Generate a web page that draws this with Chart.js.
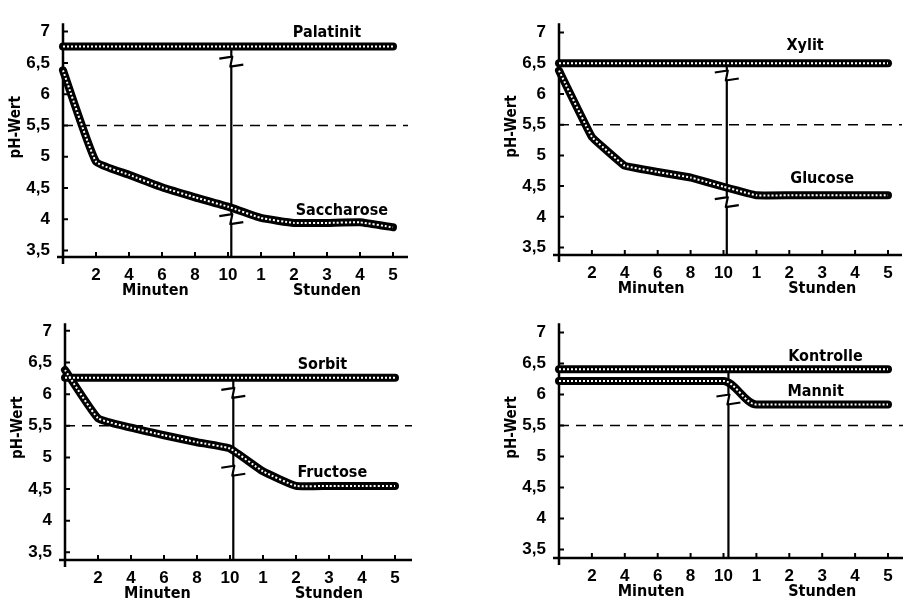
<!DOCTYPE html>
<html lang="de">
<head>
<meta charset="UTF-8">
<title>pH-Wert</title>
<script src="https://cdn.jsdelivr.net/npm/chart.js"></script>
<style>
  body { margin: 0; background: #fff; }
  canvas { position: absolute; }
</style>
</head>
<body>
<canvas id="c1" width="451" height="300" style="left:0;top:0"></canvas>
<canvas id="c2" width="452" height="300" style="left:451px;top:0"></canvas>
<canvas id="c3" width="451" height="303" style="left:0;top:300px"></canvas>
<canvas id="c4" width="452" height="303" style="left:451px;top:300px"></canvas>

<script>
// x positions 0..10: 0-10 Minuten, then 1-5 Stunden
const xTickLabels = ['', '2', '4', '6', '8', '10', '1', '2', '3', '4', '5'];
const yTickValues = [3.5, 4, 4.5, 5, 5.5, 6, 6.5, 7];
const refPH = 5.5;

const palatinit  = [6.76, 6.76, 6.76, 6.76, 6.76, 6.76, 6.76, 6.76, 6.76, 6.76, 6.76];
const saccharose = [6.38, 4.92, 4.71, 4.51, 4.35, 4.20, 4.02, 3.94, 3.94, 3.95, 3.87];
const xylit      = [6.50, 6.50, 6.50, 6.50, 6.50, 6.50, 6.50, 6.50, 6.50, 6.50, 6.50];
const glucose    = [6.38, 5.30, 4.83, 4.73, 4.64, 4.49, 4.35, 4.35, 4.35, 4.35, 4.35];
const sorbit     = [6.26, 6.26, 6.26, 6.26, 6.26, 6.26, 6.26, 6.26, 6.26, 6.26, 6.26];
const fructose   = [6.38, 5.62, 5.47, 5.35, 5.24, 5.14, 4.78, 4.55, 4.55, 4.55, 4.55];
const kontrolle  = [6.41, 6.41, 6.41, 6.41, 6.41, 6.41, 6.41, 6.41, 6.41, 6.41, 6.41];
const mannit     = [6.22, 6.22, 6.22, 6.22, 6.22, 6.22, 5.84, 5.84, 5.84, 5.84, 5.84];

const labelFont = 'bold 16px "DejaVu Sans Condensed", "DejaVu Sans"';
const titleFont = 'bold 15px "DejaVu Sans Condensed", "DejaVu Sans"';
const tickFont = { family: 'Liberation Sans', size: 17, weight: 'bold' };

// geometry of each panel (pixels inside its canvas)
const panels = [
  { id: 'c1', w: 451, h: 300, left: 63, right: 408, lastTick: 393, y7: 16, y35: 250, axisY: 257, top: 7,
    series: [['Palatinit', palatinit, 0], ['Saccharose', saccharose, 0.12]],
    names: [['Palatinit', 8.0, 6.985], ['Saccharose', 8.45, 4.14]],
    splitX: 5.1, splitTop: 6.76, breaks: [6.52, 4.0] },
  { id: 'c2', w: 452, h: 300, left: 108, right: 451, lastTick: 437, y7: 16, y35: 247, axisY: 255, top: 6,
    series: [['Xylit', xylit, 0], ['Glucose', glucose, 0.05]],
    names: [['Xylit', 7.48, 6.79], ['Glucose', 8.0, 4.62]],
    splitX: 5.1, splitTop: 6.5, breaks: [6.3, 4.24] },
  { id: 'c3', w: 451, h: 303, left: 65, right: 412, lastTick: 395, y7: 20, y35: 252, axisY: 260, top: 12,
    series: [['Sorbit', sorbit, 0], ['Fructose', fructose, 0.12]],
    names: [['Sorbit', 7.8, 6.47], ['Fructose', 8.1, 4.76]],
    splitX: 5.1, splitTop: 6.26, breaks: [6.02, 4.79] },
  { id: 'c4', w: 452, h: 303, left: 108, right: 452, lastTick: 437, y7: 17, y35: 249, axisY: 258, top: 7,
    series: [['Kontrolle', kontrolle, 0], ['Mannit', mannit, 'mono']],
    names: [['Kontrolle', 8.1, 6.61], ['Mannit', 7.8, 6.05]],
    splitX: 5.15, splitTop: 6.41, breaks: [5.92] }
];

const decor = {
  id: 'decor',
  beforeDatasetsDraw(chart, args, o) {
    const ctx = chart.ctx, xs = chart.scales.x, ys = chart.scales.y, a = chart.chartArea;
    ctx.save();
    ctx.strokeStyle = '#000';
    ctx.lineWidth = 2.5;
    ctx.beginPath();
    ctx.moveTo(a.left, a.top);
    ctx.lineTo(a.left, a.bottom + 7);
    ctx.moveTo(a.left - 6, a.bottom);
    ctx.lineTo(a.right, a.bottom);
    ctx.stroke();

    // inward tick marks
    ctx.lineWidth = 2;
    ctx.beginPath();
    ys.ticks.forEach(t => {
      const y = ys.getPixelForValue(t.value);
      ctx.moveTo(a.left, y);
      ctx.lineTo(a.left + 5, y);
    });
    xs.ticks.forEach(t => {
      const x = xs.getPixelForValue(t.value);
      ctx.moveTo(x, a.bottom);
      ctx.lineTo(x, a.bottom - 5);
    });
    ctx.stroke();

    // split line between Minuten and Stunden, with break marks
    const sx = xs.getPixelForValue(o.splitX);
    ctx.lineWidth = 2.2;
    ctx.lineJoin = 'round';
    ctx.beginPath();
    ctx.moveTo(sx, ys.getPixelForValue(o.splitTop));
    o.breaks.forEach(v => {
      const y = ys.getPixelForValue(v);
      ctx.lineTo(sx, y - 5);
      ctx.moveTo(sx - 12, y - 3);
      ctx.lineTo(sx + 1, y - 5);
      ctx.lineTo(sx - 1, y + 5);
      ctx.lineTo(sx + 12, y + 3);
      ctx.moveTo(sx, y + 5);
    });
    ctx.lineTo(sx, a.bottom);
    ctx.stroke();
    ctx.restore();
  },
  afterDraw(chart, args, o) {
    const ctx = chart.ctx, xs = chart.scales.x, ys = chart.scales.y, a = chart.chartArea;
    ctx.save();
    ctx.fillStyle = '#000';
    ctx.font = labelFont;
    ctx.textAlign = 'center';
    ctx.textBaseline = 'middle';
    o.names.forEach(([txt, x, y]) => {
      ctx.fillText(txt, xs.getPixelForValue(x), ys.getPixelForValue(y));
    });
    ctx.fillText('Minuten', xs.getPixelForValue(2.8), a.bottom + 34);
    ctx.fillText('Stunden', xs.getPixelForValue(8.0), a.bottom + 34);
    ctx.font = titleFont;
    ctx.translate(a.left - 47, ys.getPixelForValue(5.47));
    ctx.rotate(-Math.PI / 2);
    ctx.fillText('pH-Wert', 0, 0);
    ctx.restore();
  }
};

panels.forEach(p => {
  const u = (p.y35 - p.y7) / 3.5;
  const yMax = 7 + (p.y7 - p.top) / u;
  const yMin = 3.5 - (p.axisY - p.y35) / u;
  const step = (p.lastTick - p.left) / 10;
  const xMax = 10 + (p.right - p.lastTick) / step;

  const datasets = [{
    data: [{ x: 0, y: refPH }, { x: xMax, y: refPH }],
    borderColor: '#000', borderWidth: 1.5, borderDash: [10, 7],
    pointRadius: 0, order: 3
  }];
  p.series.forEach(([name, vals, curve]) => {
    const pts = vals.map((v, i) => ({ x: i, y: v }));
    const shape = curve === 'mono' ? { cubicInterpolationMode: 'monotone' } : { tension: curve };
    datasets.push(Object.assign({
      label: name, data: pts, borderColor: '#000', borderWidth: 8,
      borderCapStyle: 'round', borderJoinStyle: 'round', pointRadius: 0, clip: 10, order: 2
    }, shape));
    datasets.push(Object.assign({
      label: name + ' (Raster)', data: pts, borderColor: '#fff', borderWidth: 2,
      borderDash: [2, 2], pointRadius: 0, clip: 10, order: 1
    }, shape));
  });

  new Chart(document.getElementById(p.id), {
    type: 'line',
    data: { datasets },
    options: {
      responsive: false,
      animation: false,
      layout: { padding: { left: 0, top: p.top, right: p.w - p.right, bottom: 0 } },
      plugins: {
        legend: { display: false },
        tooltip: { enabled: false },
        decor: { names: p.names, splitX: p.splitX, splitTop: p.splitTop, breaks: p.breaks }
      },
      scales: {
        x: {
          type: 'linear', min: 0, max: xMax,
          border: { display: false },
          grid: { display: false, drawTicks: false },
          afterBuildTicks: s => { s.ticks = xTickLabels.map((_, i) => ({ value: i })); },
          afterFit: s => { s.height = p.h - p.axisY; },
          ticks: {
            autoSkip: false, maxRotation: 0, padding: 8, color: '#000', font: tickFont,
            callback: v => xTickLabels[Math.round(v)]
          }
        },
        y: {
          type: 'linear', min: yMin, max: yMax,
          border: { display: false },
          grid: { display: false, drawTicks: false },
          afterBuildTicks: s => { s.ticks = yTickValues.map(v => ({ value: v })); },
          afterFit: s => { s.width = p.left; },
          ticks: {
            padding: 13, color: '#000', font: tickFont,
            callback: v => String(v).replace('.', ',')
          }
        }
      }
    },
    plugins: [decor]
  });
});
</script>
</body>
</html>
